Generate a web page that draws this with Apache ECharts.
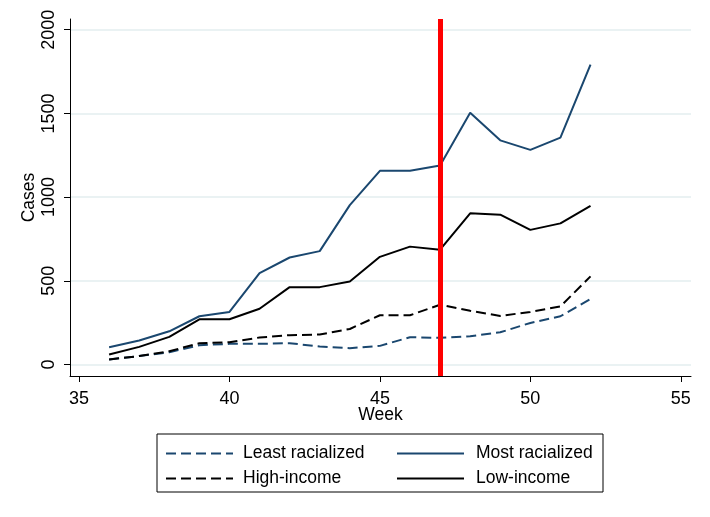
<!DOCTYPE html>
<html>
<head>
<meta charset="utf-8">
<script src="https://cdn.jsdelivr.net/npm/echarts@6/dist/echarts.min.js"></script>
<style>html,body{margin:0;padding:0;background:#fff}#c{width:710px;height:517px}</style>
</head>
<body>
<div id="c"></div>
<script>
var weeks = [36,37,38,39,40,41,42,43,44,45,46,47,48,49,50,51,52];
var leastRacialized = [30,50,73,115,123,123,127,107,97,111,163,159,169,192,248,288,391];
var mostRacialized = [103,143,198,288,314,546,639,677,952,1157,1157,1189,1504,1339,1282,1355,1792];
var highIncome = [30,50,79,127,133,161,175,179,212,294,294,357,321,290,314,347,526];
var lowIncome = [60,105,165,270,270,333,462,462,496,643,704,686,903,895,804,843,948];
var xTicks = [35,40,45,50,55];
var yTicks = [0,500,1000,1500,2000];
var cutoffWeek = 47;

function pairs(v){ return weeks.map(function(w,i){ return [w, v[i]]; }); }
var FONT = 'Liberation Sans, Arial, sans-serif';
var navy = '#1a476f';
var clear = 'rgba(0,0,0,0)';
var dash = [10,5];

var chart = echarts.init(document.getElementById('c'), null, {renderer:'canvas'});
chart.setOption({
  backgroundColor:'#fff',
  animation:false,
  grid:{left:70, right:19, top:19, bottom:141, containLabel:false},
  xAxis:{
    type:'value', min:34.7, max:55.34,
    name:'Week', nameLocation:'middle', nameGap:30, nameMoveOverlap:false,
    nameTextStyle:{color:'#000', fontSize:17.5, fontFamily:FONT},
    axisLine:{show:true, onZero:false, lineStyle:{color:'#000', width:1}},
    axisTick:{show:true, length:6, customValues:xTicks, lineStyle:{color:'#000'}},
    axisLabel:{customValues:xTicks, color:'#000', fontSize:18, fontFamily:FONT, margin:14,
      formatter:function(v){return String(v);}},
    splitLine:{show:false}
  },
  yAxis:{
    type:'value', min:-69, max:2064,
    name:'Cases', nameLocation:'middle', nameGap:32, nameMoveOverlap:false,
    nameTextStyle:{color:'#000', fontSize:17.5, fontFamily:FONT},
    axisLine:{show:true, onZero:false, lineStyle:{color:'#000', width:1}},
    axisTick:{show:true, length:6, customValues:yTicks, lineStyle:{color:'#000'}},
    axisLabel:{customValues:yTicks, rotate:90, color:'#000', fontSize:18, fontFamily:FONT, margin:12,
      formatter:function(v){return String(v);}},
    splitLine:{show:true, lineStyle:{color:'#eaf2f3', width:2}}
  },
  legend:[
    {left:165, top:444, orient:'vertical', itemWidth:67, itemHeight:14, itemGap:6, padding:0,
     itemStyle:{opacity:0},
     textStyle:{color:'#000', fontSize:17.5, fontFamily:FONT, lineHeight:19, padding:[0,0,0,5]},
     data:['Least racialized','High-income']},
    {left:396, top:444, orient:'vertical', itemWidth:67, itemHeight:14, itemGap:6, padding:0,
     itemStyle:{opacity:0},
     textStyle:{color:'#000', fontSize:17.5, fontFamily:FONT, lineHeight:19, padding:[0,0,0,7]},
     data:['Most racialized','Low-income']}
  ],
  graphic:[{type:'rect', shape:{x:157, y:434, width:446, height:58}, style:{fill:null, stroke:'#000', lineWidth:1}, silent:true}],
  series:[
    {name:'Least racialized', type:'line', data:pairs(leastRacialized), symbol:'none',
     lineStyle:{color:navy, width:2, type:dash}, itemStyle:{color:clear}},
    {name:'Most racialized', type:'line', data:pairs(mostRacialized), symbol:'none',
     lineStyle:{color:navy, width:2}, itemStyle:{color:clear}},
    {name:'High-income', type:'line', data:pairs(highIncome), symbol:'none',
     lineStyle:{color:'#000', width:2, type:dash}, itemStyle:{color:clear}},
    {name:'Low-income', type:'line', data:pairs(lowIncome), symbol:'none',
     lineStyle:{color:'#000', width:2}, itemStyle:{color:clear},
     markLine:{silent:true, symbol:'none', label:{show:false},
       lineStyle:{color:'#ff0000', width:5, type:'solid'},
       data:[{xAxis:cutoffWeek}]}}
  ]
});
</script>
</body>
</html>
